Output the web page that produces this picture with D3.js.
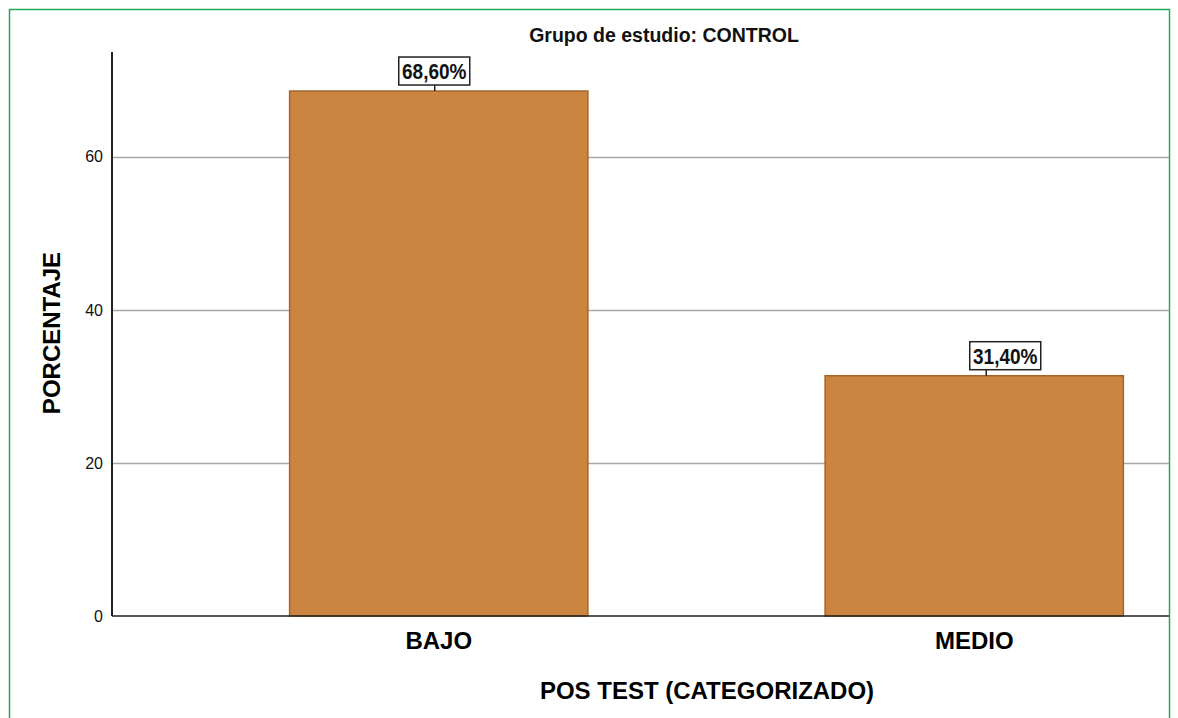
<!DOCTYPE html>
<html>
<head>
<meta charset="utf-8">
<script src="https://cdn.jsdelivr.net/npm/d3@7"></script>
<style>
  html, body { margin: 0; padding: 0; background: #fff; }
  svg { display: block; font-family: "Liberation Sans", Arial, sans-serif; }
</style>
</head>
<body>
<div id="chart"></div>
<script>
const categories = ["BAJO", "MEDIO"];
const percentages = [68.6, 31.4];
const valueLabels = ["68,60%", "31,40%"];
const yTicks = [0, 20, 40, 60];

const W = 1178, H = 718;
const plotLeft = 112, plotRight = 1169, plotTop = 52, plotBottom = 616;

const svg = d3.select("#chart").append("svg")
    .attr("width", W)
    .attr("height", H);

// outer green frame (bottom runs off the picture)
svg.append("rect")
    .attr("x", 9.5).attr("y", 9.5)
    .attr("width", 1160).attr("height", 720)
    .attr("fill", "none")
    .attr("stroke", "#22a85e")
    .attr("stroke-width", 1.5);

const y = d3.scaleLinear()
    .domain([0, 73.7])
    .range([plotBottom, plotTop]);

const x = d3.scaleBand()
    .domain(categories)
    .range([171, 1242])
    .paddingInner(0.443)
    .paddingOuter(0.2215);

// gridlines
svg.append("g")
    .selectAll("line")
    .data(yTicks.filter(d => d > 0))
    .join("line")
    .attr("x1", plotLeft).attr("x2", plotRight)
    .attr("y1", d => Math.round(y(d)) + 0.5)
    .attr("y2", d => Math.round(y(d)) + 0.5)
    .attr("stroke", "#a8a8a8")
    .attr("stroke-width", 1.5);

// bars
svg.append("g")
    .selectAll("rect")
    .data(percentages)
    .join("rect")
    .attr("x", (d, i) => x(categories[i]))
    .attr("y", d => y(d))
    .attr("width", x.bandwidth())
    .attr("height", d => y(0) - y(d))
    .attr("fill", "#cc8540")
    .attr("stroke", "#a5642a")
    .attr("stroke-width", 1.5);

// y axis
const yAxis = svg.append("g")
    .attr("transform", `translate(${plotLeft},0)`)
    .call(d3.axisLeft(y).tickValues(yTicks).tickSize(0).tickPadding(9));
yAxis.select(".domain").remove();
yAxis.selectAll("text")
    .attr("font-size", 16)
    .attr("fill", "#111")
    .attr("font-family", "'Liberation Sans', Arial, sans-serif");

svg.append("line")
    .attr("x1", plotLeft).attr("x2", plotLeft)
    .attr("y1", plotTop).attr("y2", plotBottom)
    .attr("stroke", "#222").attr("stroke-width", 2);

// x axis
const xAxis = svg.append("g")
    .attr("transform", `translate(0,${plotBottom})`)
    .call(d3.axisBottom(x).tickSize(0).tickPadding(16));
xAxis.select(".domain").remove();
xAxis.selectAll("text")
    .attr("font-size", 24)
    .attr("font-weight", "bold")
    .attr("fill", "#000")
    .attr("font-family", "'Liberation Sans', Arial, sans-serif");

svg.append("line")
    .attr("x1", plotLeft).attr("x2", plotRight)
    .attr("y1", plotBottom).attr("y2", plotBottom)
    .attr("stroke", "#222").attr("stroke-width", 1.5);

// value labels with boxes
const boxLeft = [-40, -4.5];
const stemX = [-4, 12];
const labels = svg.append("g")
    .selectAll("g")
    .data(percentages)
    .join("g")
    .attr("transform", (d, i) => `translate(${x(categories[i]) + x.bandwidth() / 2},${y(d)})`);

labels.append("line")
    .attr("x1", (d, i) => stemX[i])
    .attr("x2", (d, i) => stemX[i])
    .attr("y1", -6).attr("y2", 0)
    .attr("stroke", "#222").attr("stroke-width", 1.5);

labels.append("rect")
    .attr("x", (d, i) => boxLeft[i])
    .attr("y", -34)
    .attr("width", 71)
    .attr("height", 28)
    .attr("fill", "#fff")
    .attr("stroke", "#222")
    .attr("stroke-width", 1.5);

labels.append("text")
    .attr("transform", (d, i) => `translate(${boxLeft[i] + 35.5},-12) scale(1,1.2)`)
    .attr("text-anchor", "middle")
    .attr("font-size", 19)
    .attr("font-weight", "bold")
    .attr("fill", "#111")
    .text((d, i) => valueLabels[i]);

// titles
svg.append("text")
    .attr("x", 664).attr("y", 42)
    .attr("text-anchor", "middle")
    .attr("font-size", 19.5)
    .attr("font-weight", "bold")
    .attr("fill", "#111")
    .text("Grupo de estudio: CONTROL");

svg.append("text")
    .attr("transform", `translate(60,333) rotate(-90)`)
    .attr("text-anchor", "middle")
    .attr("font-size", 24)
    .attr("font-weight", "bold")
    .attr("fill", "#000")
    .text("PORCENTAJE");

svg.append("text")
    .attr("x", 707).attr("y", 699)
    .attr("text-anchor", "middle")
    .attr("font-size", 24)
    .attr("font-weight", "bold")
    .attr("fill", "#000")
    .text("POS TEST (CATEGORIZADO)");
</script>
</body>
</html>
